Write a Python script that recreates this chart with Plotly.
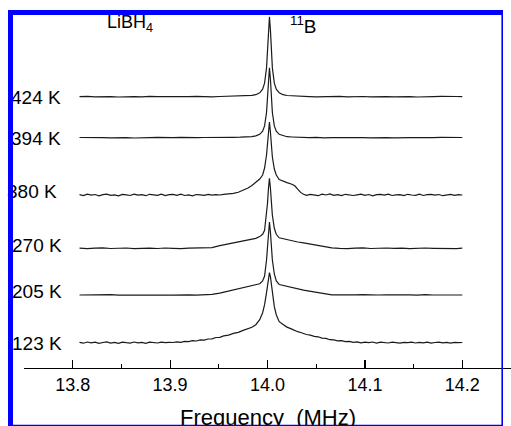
import plotly.graph_objects as go

# ---------------- data ----------------
# coarse frequency grid (MHz) used for the quieter spectra
FREQ = [13.807, 13.815, 13.823, 13.831, 13.839, 13.847, 13.855, 13.863, 13.871, 13.879,
        13.887, 13.895, 13.903, 13.911, 13.919, 13.927, 13.935, 13.943, 13.951, 13.958,
        13.965, 13.972, 13.978, 13.984, 13.988, 13.992, 13.995, 13.997, 13.999, 14.000,
        14.001, 14.002, 14.003, 14.004, 14.005, 14.007, 14.009, 14.012, 14.016, 14.020,
        14.025, 14.031, 14.037, 14.043, 14.050, 14.058, 14.066, 14.074, 14.082, 14.090,
        14.098, 14.106, 14.114, 14.122, 14.130, 14.138, 14.146, 14.154, 14.162, 14.170,
        14.178, 14.186, 14.194, 14.200]

# finer frequency grid (MHz) used for the noisier spectra (123 K, 380 K)
FREQ_FINE = [13.807, 13.811, 13.815, 13.819, 13.823, 13.827, 13.831, 13.835, 13.839, 13.843,
             13.847, 13.851, 13.855, 13.859, 13.863, 13.867, 13.871, 13.875, 13.879, 13.883,
             13.887, 13.891, 13.895, 13.899, 13.903, 13.907, 13.911, 13.915, 13.919, 13.923,
             13.927, 13.931, 13.935, 13.939, 13.943, 13.947, 13.951, 13.955,
             13.960, 13.965, 13.970, 13.975, 13.980, 13.984, 13.988, 13.992, 13.995, 13.997,
             13.999, 14.000, 14.001, 14.002, 14.003, 14.004, 14.005, 14.007, 14.009, 14.012,
             14.016, 14.020, 14.025, 14.028, 14.031, 14.034, 14.037,
             14.040, 14.044, 14.048, 14.052, 14.056, 14.060, 14.064, 14.068, 14.072, 14.076,
             14.080, 14.084, 14.088, 14.092, 14.096, 14.100, 14.104, 14.108, 14.112, 14.116,
             14.120, 14.124, 14.128, 14.132, 14.136, 14.140, 14.144, 14.148, 14.152, 14.156,
             14.160, 14.164, 14.168, 14.172, 14.176, 14.180, 14.184, 14.188, 14.192, 14.196,
             14.200]

TEMPS = ["123 K", "205 K", "270 K", "380 K", "394 K", "424 K"]
OFFSETS = [25.3, 73.0, 119.7, 173.0, 230.3, 271.3]   # vertical stacking offsets (a.u.)

I_123 = [0.4, -0.5, 0.7, -0.2, 0.5, -0.7, 0.2, 0.8, -0.4, 0.3, -0.6, 0.6, 0.0, -0.4, 0.7,
         -0.1, 0.3, -0.6, 0.5, 0.1, -0.3, 0.6, 0.0, 0.4,
         0.2, 0.9, 0.4, 1.3, 1.0, 2.0, 1.7, 2.8, 2.6, 3.7, 3.9, 5.2, 5.4, 6.8,
         7.6, 9.3, 10.4, 12.3, 14.0, 15.4, 18.0, 23.0, 30.0, 38.0, 50.0, 58.0, 66.0, 70.0,
         66.0, 57.0, 48.0, 36.0, 28.0, 21.0, 18.3, 15.6, 13.6, 12.0, 11.0, 10.2, 9.1,
         8.2, 7.6, 6.3, 5.9, 4.6, 4.3, 3.0, 2.9, 1.9, 2.0, 1.0, 1.3, 0.4, 0.9, -0.2, 0.6,
         0.1, 0.7, -0.4, 0.5, 0.2, -0.3, 0.6, 0.0, -0.5, 0.4, 0.1, 0.6, -0.3, 0.3, -0.1,
         0.5, -0.4, 0.2, 0.6, -0.2, 0.3, -0.5, 0.4, 0.0, 0.2]

I_205 = [0.0, 0.2, -0.2, 0.1, 0.3, -0.1, 0.0, 0.2, -0.3, 0.1, 0.2, 0.0, -0.2, 0.3, 0.1, -0.1,
         0.2, 0.6, 1.8, 3.3, 5.2, 6.8, 7.8,
         9.0, 10.0, 11.2, 14.0, 19.0, 35.0, 48.0, 63.0, 73.0, 63.0, 48.0, 35.0, 21.0, 14.0,
         10.5, 9.5, 8.3, 7.2,
         6.0, 4.8, 3.8, 2.6, 1.2, 0.1,
         0.2, -0.1, 0.1, 0.3, -0.2, 0.0, 0.2, 0.4, -0.1, 0.1, -0.2, 0.3, 0.0, 0.1, -0.1, 0.2, 0.0]

I_270 = [0.2, -0.3, 0.1, 0.4, -0.2, 0.0, 0.3, -0.4, 0.1, 0.2, -0.2, 0.3, 0.0, -0.3, 0.2, 0.1,
         0.2, 0.6, 2.7, 4.0, 5.3, 7.3, 8.0,
         8.8, 10.0, 11.7, 14.0, 18.0, 33.0, 45.0, 60.0, 70.0, 60.0, 45.0, 33.0, 20.0, 14.0,
         10.5, 9.5, 8.3, 7.2,
         6.3, 5.5, 4.5, 3.4, 1.5, 0.5,
         0.0, -0.3, 0.2, 0.4, -0.2, 0.1, 0.3, -0.1, 0.2, -0.3, 0.1, 0.3, 0.0, -0.2, 0.2, -0.4, 0.1]

I_380 = [0.3, -0.6, 0.8, -0.2, 0.5, -0.9, 0.4, 0.9, -0.3, 0.2, -0.8, 0.6, 0.1, -0.5, 0.9,
         -0.2, 0.4, -0.7, 0.7, 0.0, -0.4, 0.8, -0.6, 0.3, 0.6, -0.3, 0.9, -0.5, 0.2, -0.8,
         0.5, 0.1, -0.4, 0.7, -0.2, 0.4, 0.0, 0.6,
         0.8, 1.6, 2.7, 4.8, 7.0, 9.5, 12.5, 16.0, 20.0, 27.0, 40.0, 51.0, 64.0, 73.0,
         63.0, 50.0, 38.0, 26.0, 20.0, 15.5, 13.8, 12.4, 10.8, 9.2, 5.8, 2.6, 0.8,
         -0.4, 0.6, 0.2, -0.7, 0.8, 0.0, 1.0, -0.3, 0.4, -0.6, 0.7, 0.3, -0.5, 0.2, 0.8,
         -0.4, 0.5, -0.8, 0.3, 0.6, -0.2, 0.9, -0.5, 0.1, 0.4, -0.6, 0.7, 0.0, -0.3, 0.8,
         -0.5, 0.3, 0.6, -0.2, 0.5, -0.7, 0.2, 0.7, -0.4, 0.3, 0.0]

I_394 = [0.2, -0.1, 0.3, 0.0, -0.2, 0.2, 0.1, -0.3, 0.2, 0.0, 0.3, -0.1, 0.1, 0.3, -0.2,
         0.0, 0.2, 0.1, -0.1, 0.3, 0.4, 0.5, 0.7,
         1.1, 1.8, 3.4, 6.6, 11.8, 25.2, 39.1, 58.5, 70.0, 58.5, 39.1, 25.2, 11.8, 6.6,
         3.4, 1.8, 1.0, 0.7,
         0.4, 0.2, 0.0, 0.3, -0.2, 0.1, 0.2, -0.1, 0.3, 0.0, -0.2, 0.2, 0.1, -0.1, 0.3,
         0.0, 0.2, -0.2, 0.1, 0.3, 0.0, -0.1, 0.2]

I_424 = [0.0, 0.3, -0.2, 0.2, 0.0, -0.3, 0.2, 0.1, -0.2, 0.3, 0.0, -0.1, 0.2, -0.2, 0.1,
         0.3, 0.0, -0.2, 0.2, 0.3, 0.4, 0.6, 0.8,
         1.3, 2.0, 3.9, 7.5, 13.5, 28.8, 44.7, 66.8, 80.0, 66.8, 44.7, 28.8, 13.5, 7.5,
         3.9, 2.0, 1.2, 0.8,
         0.5, 0.3, 0.1, -0.2, 0.2, 0.0, 0.3, -0.2, 0.1, 0.2, -0.1, 0.3, 0.0, -0.2, 0.2,
         0.1, -0.3, 0.2, 0.0, 0.3, -0.1, 0.2, 0.0]

SERIES = [(FREQ_FINE, I_123), (FREQ, I_205), (FREQ, I_270),
          (FREQ_FINE, I_380), (FREQ, I_394), (FREQ, I_424)]

X_TICKS = [13.8, 13.9, 14.0, 14.1, 14.2]
X_TICK_TEXT = ["13.8", "13.9", "14.0", "14.1", "14.2"]

# ---------------- layout constants (page pixels) ----------------
W, H = 511, 426
PLOT_LEFT, AX_ROW, PLOT_TOP = 24, 368, 16
ML, MT, MR = PLOT_LEFT, PLOT_TOP, 0
PW = W - ML - MR
PH = AX_ROW - PLOT_TOP
MB = H - MT - PH
FRAME_RIGHT = 503   # right edge of the visible page area


def pxx(p):
    return (p - PLOT_LEFT) / PW


def pxy(p):
    return (AX_ROW - p) / PH


FONT = "Liberation Sans, Arial, sans-serif"
BLUE = "#0000ff"

fig = go.Figure()
for name, off, (fx, inten) in zip(TEMPS, OFFSETS, SERIES):
    fig.add_trace(go.Scatter(
        x=fx, y=[off + v for v in inten], mode="lines", name=name,
        line=dict(color="#1a1a1a", width=1.2), showlegend=False, hoverinfo="skip"))

# temperature labels: (right edge px, cap-centre px)
LABEL_POS = [(63, 341.7), (63, 289.5), (63.3, 243.7), (58.3, 189.7), (61.7, 137.0), (61.7, 95.7)]
annotations = []
for name, (xr, yc) in zip(TEMPS, LABEL_POS):
    annotations.append(dict(
        x=pxx(xr), y=pxy(yc + 1.5), xref="paper", yref="paper", xanchor="right",
        yanchor="middle", text=name, showarrow=False, borderpad=0,
        font=dict(family=FONT, size=19, color="black")))

annotations.append(dict(x=pxx(106), y=pxy(23), xref="paper", yref="paper",
                        xanchor="left", yanchor="middle", text="LiBH<sub>4</sub>",
                        showarrow=False, borderpad=0,
                        font=dict(family=FONT, size=18, color="black")))
annotations.append(dict(x=pxx(289), y=pxy(25), xref="paper", yref="paper",
                        xanchor="left", yanchor="middle", text="<sup>11</sup>B",
                        showarrow=False, borderpad=0,
                        font=dict(family=FONT, size=19, color="black")))
annotations.append(dict(x=pxx(268), y=pxy(417.5), xref="paper", yref="paper",
                        xanchor="center", yanchor="middle", text="Frequency&nbsp;&nbsp;(MHz)",
                        showarrow=False, borderpad=0,
                        font=dict(family=FONT, size=22, color="black")))
# left blue frame bar drawn on top of the labels
annotations.append(dict(x=pxx(8), y=pxy(10), xref="paper", yref="paper",
                        xanchor="left", yanchor="top", text=" ", width=5, height=416,
                        bgcolor=BLUE, borderpad=0, borderwidth=0, showarrow=False))

shapes = [
    dict(type="rect", xref="paper", yref="paper", x0=pxx(8), x1=pxx(FRAME_RIGHT),
         y0=pxy(15), y1=pxy(10), fillcolor=BLUE, line=dict(width=0), layer="above"),
    dict(type="rect", xref="paper", yref="paper", x0=pxx(8), x1=pxx(13),
         y0=pxy(426), y1=pxy(10), fillcolor=BLUE, line=dict(width=0), layer="above"),
    dict(type="rect", xref="paper", yref="paper", x0=pxx(FRAME_RIGHT - 1.6), x1=pxx(FRAME_RIGHT),
         y0=pxy(426), y1=pxy(10), fillcolor=BLUE, line=dict(width=0), layer="above"),
    dict(type="rect", xref="paper", yref="paper", x0=pxx(8), x1=pxx(FRAME_RIGHT),
         y0=pxy(426), y1=pxy(424.8), fillcolor=BLUE, line=dict(width=0), layer="above"),
]

fig.update_layout(
    width=W, height=H, margin=dict(l=ML, r=MR, t=MT, b=MB, pad=0),
    paper_bgcolor="white", plot_bgcolor="white",
    annotations=annotations, shapes=shapes,
    xaxis=dict(range=[13.75, 14.25], showgrid=False, zeroline=False,
               showline=True, linecolor="black", linewidth=1.2,
               ticks="inside", ticklen=8, tickwidth=1.2, tickcolor="black",
               tickvals=X_TICKS, ticktext=X_TICK_TEXT,
               tickfont=dict(family=FONT, size=18, color="black"),
               minor=dict(ticks="inside", ticklen=4, tickwidth=1.2, tickcolor="black",
                          dtick=0.05, tick0=13.75)),
    yaxis=dict(range=[0, PH], visible=False),
)

fig.write_html(
    "out.html",
    config={"staticPlot": True, "displayModeBar": False},
    post_script="document.body.style.margin='0px';"
                "document.documentElement.style.overflow='hidden';"
                "document.body.style.overflow='hidden';")
